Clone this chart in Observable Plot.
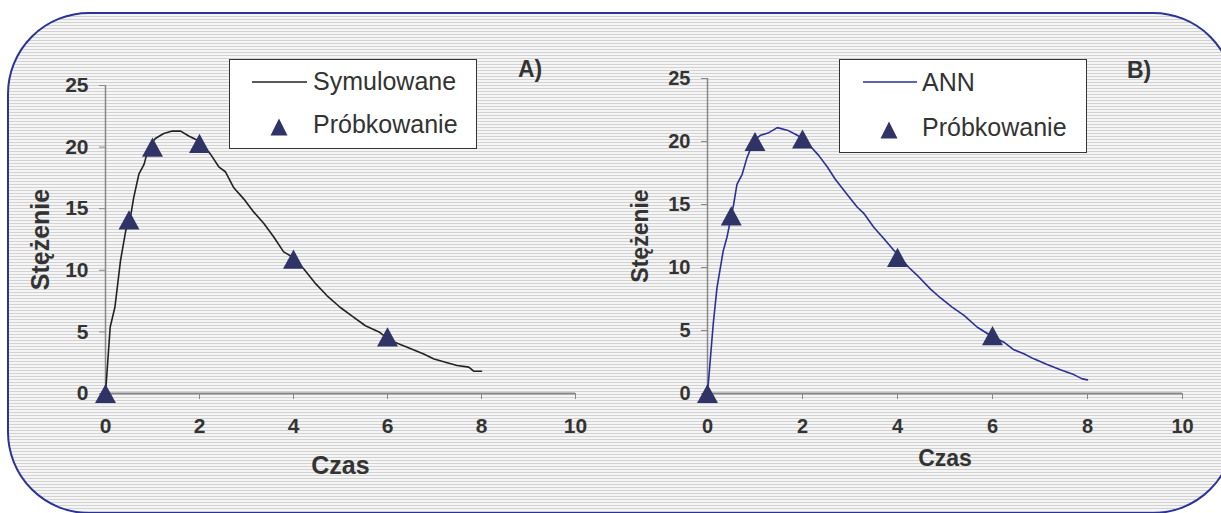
<!DOCTYPE html>
<html>
<head>
<meta charset="utf-8">
<script src="https://cdn.jsdelivr.net/npm/d3@7"></script>
<script src="https://cdn.jsdelivr.net/npm/@observablehq/plot@0.6"></script>
<style>
  html, body { margin: 0; padding: 0; background: #fff; }
  #root { position: relative; width: 1221px; height: 513px; overflow: hidden; background: #fff; font-family: Arial, "Liberation Sans", sans-serif; }
  #frame { position: absolute; left: 7px; top: 12px; width: 1228px; height: 502px; box-sizing: border-box;
    border: 2px solid #2b3399; border-radius: 82px;
    background: repeating-linear-gradient(to bottom, #f5f5f5 0px, #f5f5f5 2px, #d2d2d2 2px, #d2d2d2 3px); }
  #panelA { position: absolute; left: 0; top: 0; width: 600px; height: 513px; }
  #panelB { position: absolute; left: 600px; top: 0; width: 621px; height: 513px; }
  #overlay { position: absolute; left: 0; top: 0; pointer-events: none; }
</style>
</head>
<body>
<div id="root">
  <div id="frame"></div>
  <div id="panelA"></div>
  <div id="panelB"></div>
  <svg id="overlay" width="1221" height="513" font-family="Arial, 'Liberation Sans', sans-serif">
    <!-- Legend A -->
    <rect x="229.5" y="59.5" width="247" height="89" fill="#fff" stroke="#333" stroke-width="1"/>
    <line x1="252" x2="307" y1="82" y2="82" stroke="#222" stroke-width="1.5"/>
    <text x="313" y="90" font-size="25" fill="#333">Symulowane</text>
    <polygon points="279,118.5 287.5,135.5 270.5,135.5" fill="#303366"/>
    <text x="313" y="133" font-size="25" fill="#333">Próbkowanie</text>
    <text x="518" y="77" font-size="23" font-weight="bold" fill="#333">A)</text>
    <!-- Legend B -->
    <rect x="839.5" y="59.5" width="247" height="93" fill="#fff" stroke="#333" stroke-width="1"/>
    <line x1="863" x2="917" y1="82" y2="82" stroke="#2b2f9a" stroke-width="1.5"/>
    <text x="922" y="91" font-size="25" fill="#333">ANN</text>
    <polygon points="889,121.5 897.5,138.5 880.5,138.5" fill="#303366"/>
    <text x="922" y="136" font-size="25" fill="#333">Próbkowanie</text>
    <text x="1127" y="78" font-size="23" font-weight="bold" fill="#333">B)</text>
  </svg>
</div>
<script>
// ---- data ----
const xTicks = [0, 2, 4, 6, 8, 10];
const yTicks = [0, 5, 10, 15, 20, 25];

// Panel A: simulated concentration curve
const timeA = [0, 0.1, 0.2, 0.32, 0.43, 0.53, 0.6, 0.71, 0.82, 0.92, 1.06, 1.24, 1.42, 1.6, 1.77, 1.99,
  2.23, 2.41, 2.55, 2.73, 2.94, 3.16, 3.37, 3.58, 3.79, 3.97, 4.22, 4.45, 4.71, 4.99, 5.24, 5.53, 5.82,
  6.06, 6.42, 6.77, 6.99, 7.27, 7.48, 7.73, 7.84, 8.0];
const simulated = [0, 5.4, 7.0, 10.8, 13.2, 14.3, 15.9, 17.8, 18.6, 20.0, 20.7, 21.1, 21.3, 21.3, 20.9, 20.5,
  19.45, 18.4, 18.0, 16.7, 15.8, 14.7, 13.8, 12.7, 11.5, 11.1, 10.1, 9.0, 7.95, 7.0, 6.3, 5.5, 5.0,
  4.3, 3.76, 3.2, 2.8, 2.5, 2.27, 2.14, 1.8, 1.8];

// Panel B: ANN concentration curve
const timeB = [0, 0.12, 0.2, 0.33, 0.41, 0.48, 0.55, 0.62, 0.73, 0.83, 0.98, 1.12, 1.29, 1.47, 1.68, 1.89,
  2.17, 2.34, 2.52, 2.69, 2.94, 3.15, 3.29, 3.5, 3.71, 3.89, 4.24, 4.41, 4.69, 4.9, 5.15, 5.4, 5.68,
  5.96, 6.24, 6.45, 6.66, 6.87, 7.15, 7.43, 7.71, 7.89, 8.0];
const ann = [0, 5.5, 8.4, 11.3, 12.4, 13.7, 15.0, 16.6, 17.4, 18.7, 20.1, 20.5, 20.7, 21.1, 20.9, 20.5,
  19.6, 18.9, 18.0, 17.0, 15.8, 14.8, 14.3, 13.2, 12.3, 11.5, 10.0, 9.4, 8.3, 7.6, 6.85, 6.2, 5.26,
  4.6, 4.07, 3.47, 3.15, 2.75, 2.3, 1.88, 1.5, 1.16, 1.08];

// Sampling points (triangles)
const sampleTime = [0, 0.5, 1, 2, 4, 6];
const sampleA = [0, 14.1, 20.0, 20.3, 10.9, 4.6];
const sampleB = [0, 14.1, 20.0, 20.2, 10.8, 4.6];

// ---- helpers ----
const triangle = {
  draw(ctx, size) {
    const r = Math.sqrt(size / Math.PI);
    const w = r * 1.31, h = r * 1.2;
    ctx.moveTo(0, -h);
    ctx.lineTo(w, h);
    ctx.lineTo(-w, h);
    ctx.closePath();
  }
};

function panel({width, marginLeft, marginRight, marginTop, curveT, curveC, curveColor, sampC, tickFont, titleFont, xTitleDy, yTitleDx}) {
  const curve = curveT.map((t, i) => ({t, c: curveC[i]}));
  const samples = sampleTime.map((t, i) => ({t, c: sampC[i]}));
  return Plot.plot({
    width, height: 513,
    marginLeft, marginRight, marginTop, marginBottom: 120,
    style: {background: "transparent", fontFamily: "Arial, 'Liberation Sans', sans-serif", fontWeight: "bold", color: "#333", overflow: "visible"},
    x: {domain: [0, 10]},
    y: {domain: [0, 25]},
    marks: [
      Plot.axisX({ticks: xTicks, tickSize: 6, tickPadding: 19, label: null, stroke: "#888", fill: "#333", fontSize: tickFont, fontWeight: "bold"}),
      Plot.axisY({ticks: yTicks, tickSize: 6, tickPadding: 11, label: null, stroke: "#888", fill: "#333", fontSize: tickFont, fontWeight: "bold"}),
      Plot.ruleX([0], {stroke: "#888", strokeWidth: 1.5}),
      Plot.ruleY([0], {stroke: "#888", strokeWidth: 2}),
      Plot.line(curve, {x: "t", y: "c", stroke: curveColor, strokeWidth: 1.6}),
      Plot.dot(samples, {x: "t", y: "c", symbol: triangle, r: 8, fill: "#303366", stroke: null}),
      Plot.text(["Czas"], {frameAnchor: "bottom", dy: xTitleDy, fontSize: titleFont, fontWeight: "bold", fill: "#333", textAnchor: "middle", lineAnchor: "middle"}),
      Plot.text(["Stężenie"], {frameAnchor: "left", dx: yTitleDx, rotate: -90, fontSize: titleFont, fontWeight: "bold", fill: "#333", textAnchor: "middle", lineAnchor: "middle"})
    ]
  });
}

document.getElementById("panelA").append(panel({
  width: 600, marginLeft: 105, marginRight: 25, marginTop: 85,
  curveT: timeA, curveC: simulated, curveColor: "#222", sampC: sampleA,
  tickFont: 21, titleFont: 25, xTitleDy: 72, yTitleDx: -65
}));
document.getElementById("panelB").append(panel({
  width: 621, marginLeft: 107, marginRight: 39, marginTop: 78,
  curveT: timeB, curveC: ann, curveColor: "#2b2f9a", sampC: sampleB,
  tickFont: 20, titleFont: 23, xTitleDy: 65, yTitleDx: -67
}));
</script>
</body>
</html>
